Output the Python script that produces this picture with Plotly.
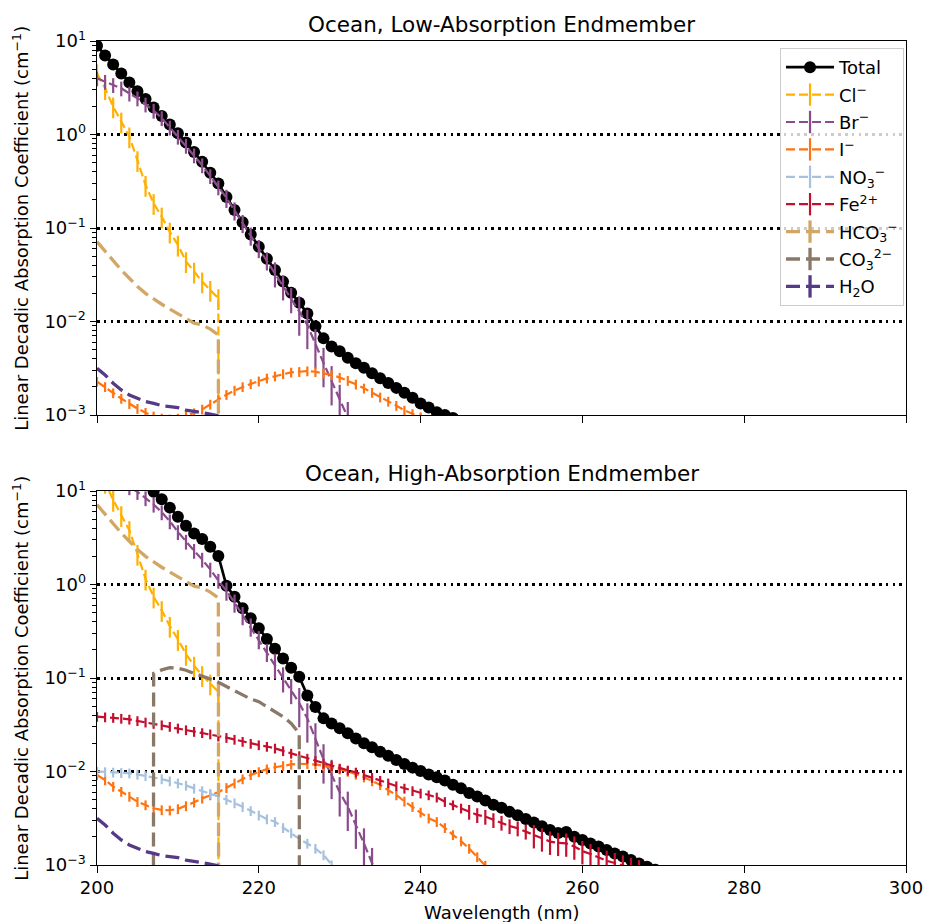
import plotly.graph_objects as go

# ---------------- data ----------------
top_total = [8.9, 7.0, 5.6, 4.5, 3.6, 2.9, 2.4, 1.94, 1.58, 1.28, 1.03, 0.82, 0.65, 0.51, 0.39,
             0.30, 0.214, 0.156, 0.115, 0.085, 0.063, 0.047, 0.0356, 0.0267, 0.0203, 0.0159,
             0.0122, 0.0089, 0.0066, 0.0054, 0.0048, 0.0041, 0.00357, 0.0032, 0.0028, 0.00247,
             0.0022, 0.00195, 0.00173, 0.00153, 0.00133, 0.0012, 0.00107, 0.001, 0.00093, 0.00086]
top_cl = [4.5, 3.12, 1.99, 1.37, 0.95, 0.53, 0.288, 0.184, 0.132, 0.091, 0.066, 0.044, 0.034,
          0.0267, 0.0217, 0.0177, 1e-100]
top_br = [4.0, 3.67, 3.39, 3.12, 2.75, 2.44, 2.1, 1.80, 1.50, 1.19, 0.95, 0.76, 0.60, 0.47, 0.36,
          0.273, 0.21, 0.154, 0.113, 0.083, 0.061, 0.045, 0.033, 0.024, 0.0175, 0.0128, 0.0092,
          0.0057, 0.0036, 0.0023, 0.00145, 0.00095, 0.0006, 0.0004]
top_i = [0.00228, 0.002, 0.00172, 0.0015, 0.00132, 0.00117, 0.00106, 0.00097, 0.00092, 0.0009,
         0.00092, 0.00098, 0.00105, 0.00115, 0.0013, 0.00145, 0.00165, 0.00183, 0.002, 0.00215,
         0.0023, 0.00247, 0.0026, 0.00275, 0.00286, 0.0029, 0.00295, 0.0029, 0.0028, 0.00268,
         0.00252, 0.00233, 0.00213, 0.00193, 0.00174, 0.00155, 0.0014, 0.00126, 0.00112,
         0.00103, 0.00095, 0.00088]
top_hco3 = [0.0714, 0.0568, 0.0444, 0.0355, 0.029, 0.0236, 0.02, 0.0173, 0.0153, 0.0136, 0.0122,
            0.0108, 0.0096, 0.0092, 0.0083, 0.0072, 1e-100]
h2o = [0.00316, 0.00268, 0.00219, 0.00185, 0.00164, 0.0015, 0.00139, 0.00133, 0.00126, 0.00123,
       0.0012, 0.00113, 0.0011, 0.00106, 0.00102, 0.00098, 0.00094, 0.0009, 0.00086]

bot_total = [41.2, 32.9, 26.1, 21.6, 17.7, 14.3, 11.6, 9.8, 8.15, 6.64, 5.3, 4.26, 3.52, 3.07,
             2.54, 2.02, 0.97, 0.74, 0.556, 0.435, 0.34, 0.262, 0.205, 0.162, 0.129, 0.103,
             0.065, 0.049, 0.037, 0.0327, 0.029, 0.0257, 0.0226, 0.02, 0.0182, 0.0163, 0.0147,
             0.0133, 0.012, 0.011, 0.0101, 0.0093, 0.0087, 0.008, 0.0072, 0.0066, 0.0059, 0.0054,
             0.0049, 0.0044, 0.0041, 0.0037, 0.0034, 0.0031, 0.00285, 0.0026, 0.00237, 0.0022,
             0.00226, 0.002, 0.00185, 0.0017, 0.00158, 0.00145, 0.00133, 0.00123, 0.00113,
             0.00104, 0.00096, 0.00089, 0.00082]
bot_cl = [18.0, 12.5, 8.0, 5.5, 3.8, 2.12, 1.15, 0.74, 0.53, 0.36, 0.26, 0.18, 0.135, 0.107,
          0.087, 0.071, 1e-100]
bot_br = [16.0, 14.7, 13.6, 12.5, 11.0, 9.8, 8.4, 7.17, 5.94, 4.75, 3.65, 2.88, 2.3, 1.85, 1.45,
          1.10, 0.86, 0.64, 0.47, 0.355, 0.26, 0.19, 0.14, 0.10, 0.075, 0.054, 0.037, 0.0226,
          0.0135, 0.0092, 0.006, 0.0042, 0.0027, 0.0017, 0.00105, 0.00065]
bot_i = [0.0092, 0.0081, 0.0069, 0.0061, 0.0054, 0.00475, 0.00438, 0.00404, 0.00388, 0.00385,
         0.00398, 0.00428, 0.00468, 0.00516, 0.0056, 0.006, 0.0067, 0.0075, 0.0083, 0.0092,
         0.0099, 0.0106, 0.0111, 0.0115, 0.0119, 0.0121, 0.0121, 0.0119, 0.0115, 0.0111, 0.0106,
         0.01, 0.0093, 0.0087, 0.0079, 0.0072, 0.0063, 0.0056, 0.0048, 0.0042, 0.00366, 0.00316,
         0.0029, 0.0025, 0.0021, 0.0018, 0.0015, 0.00122, 0.00099, 0.0008]
bot_no3 = [0.01, 0.0099, 0.0098, 0.0097, 0.0096, 0.0093, 0.009, 0.0087, 0.0083, 0.0079, 0.0075,
           0.0071, 0.0066, 0.0062, 0.0058, 0.0054, 0.005, 0.0046, 0.0042, 0.0038, 0.0034, 0.0031,
           0.0029, 0.0025, 0.0022, 0.0019, 0.0017, 0.0015, 0.00128, 0.001, 0.0008]
bot_fe = [0.0386, 0.0382, 0.0377, 0.0369, 0.0361, 0.0348, 0.0336, 0.0325, 0.0314, 0.0302, 0.029,
          0.0278, 0.0267, 0.0259, 0.0251, 0.024, 0.023, 0.022, 0.0209, 0.0199, 0.0192, 0.0185,
          0.0177, 0.0166, 0.0156, 0.0147, 0.0138, 0.013, 0.0122, 0.0115, 0.0108, 0.0103, 0.0098,
          0.0092, 0.0086, 0.008, 0.0075, 0.007, 0.0066, 0.0062, 0.00585, 0.0056, 0.0053, 0.00475,
          0.00438, 0.00404, 0.00372, 0.00343, 0.00329, 0.00303, 0.00284, 0.00261, 0.00247,
          0.00228, 0.00209, 0.00193, 0.00178, 0.00173, 0.0017, 0.00158, 0.00141, 0.00131,
          0.00121, 0.00111, 0.00105, 0.00099, 0.00093, 0.00088]
bot_hco3 = [7.14, 5.68, 4.44, 3.55, 2.9, 2.36, 2.0, 1.73, 1.53, 1.36, 1.22, 1.08, 0.96, 0.92,
            0.83, 0.72, 1e-100]
BOT_CO3_START = 206
bot_co3 = [1e-100, 0.112, 0.122, 0.129, 0.127, 0.121, 0.112, 0.105, 0.0977, 0.09, 0.0807,
           0.0732, 0.066, 0.0596, 0.0558, 0.0493, 0.0436, 0.0386, 0.0327, 0.0256, 1e-100]

# relative 1-sigma uncertainties (error bars)
CL_REL_ERR = 0.25
I_REL_ERR = 0.12
NO3_REL_ERR = 0.12
br_rel_err = [0.18] * 16 + [0.22] * 6 + [0.30] * 3 + [0.45] * 11
fe_rel_err = [0.12] * 46 + [0.18] * 8 + [0.28] * 14

names = ["Total", "Cl<sup>−</sup>", "Br<sup>−</sup>", "I<sup>−</sup>", "NO<sub>3</sub><sup>−</sup>",
         "Fe<sup>2+</sup>", "HCO<sub>3</sub><sup>−</sup>", "CO<sub>3</sub><sup>2−</sup>", "H<sub>2</sub>O"]
colors = ["#000000", "#ffb000", "#8b4c8c", "#ff7311", "#a6c1dd", "#c4102f", "#d2a766",
          "#8a7968", "#563a85"]
titles = ["Ocean, Low-Absorption Endmember", "Ocean, High-Absorption Endmember"]
ylabel = "Linear Decadic Absorption Coefficient (cm<sup>−1</sup>)"
xlabel = "Wavelength (nm)"
ytick_vals = [1e-3, 1e-2, 1e-1, 1, 10]
ytick_text = ["10<sup>−3</sup>", "10<sup>−2</sup>", "10<sup>−1</sup>", "10<sup>0</sup>", "10<sup>1</sup>"]

# ---------------- styling ----------------
FONT = "DejaVu Sans"
THIN, THICK = 2.2, 3.3
DASH_THIN, DASH_THICK = "9px,4px", "14px,6px"
thin_set = {1, 2, 3, 4, 5}
MSIZE = 12

fig = go.Figure()

# legend-only entries (mimic matplotlib errorbar handles)
for k, (nm, c) in enumerate(zip(names, colors)):
    if k == 0:
        fig.add_trace(go.Scatter(x=[None], y=[None], name=nm, mode="lines+markers",
                                 line=dict(color=c, width=2.7),
                                 marker=dict(symbol="circle", size=MSIZE, color=c),
                                 legendgroup=str(k), xaxis="x", yaxis="y"))
    else:
        w = THIN if k in thin_set else THICK
        d = DASH_THIN if k in thin_set else DASH_THICK
        fig.add_trace(go.Scatter(x=[None], y=[None], name=nm, mode="lines+markers",
                                 line=dict(color=c, width=w, dash=d),
                                 marker=dict(symbol="line-ns", size=18, color=c,
                                             line=dict(color=c, width=w)),
                                 legendgroup=str(k), xaxis="x", yaxis="y"))


def add_series(vals, start, k, xa, ya, rel=None):
    x = list(range(start, start + len(vals)))
    c = colors[k]
    if k == 0:
        fig.add_trace(go.Scatter(x=x, y=vals, mode="lines+markers",
                                 line=dict(color=c, width=2.7),
                                 marker=dict(symbol="circle", size=MSIZE, color=c),
                                 showlegend=False, hoverinfo="skip", xaxis=xa, yaxis=ya))
        return
    w = THIN if k in thin_set else THICK
    d = DASH_THIN if k in thin_set else DASH_THICK
    err = None
    if rel is not None:
        if isinstance(rel, list):
            e = [v * r for v, r in zip(vals, rel)]
        else:
            e = [v * rel for v in vals]
        err = dict(type="data", array=e, color=c, thickness=w, width=0, visible=True)
    fig.add_trace(go.Scatter(x=x, y=vals, mode="lines", line=dict(color=c, width=w, dash=d),
                             error_y=err, showlegend=False, hoverinfo="skip",
                             xaxis=xa, yaxis=ya))


# top panel
add_series(top_total, 200, 0, "x", "y")
add_series(top_cl, 200, 1, "x", "y", CL_REL_ERR)
add_series(top_br, 200, 2, "x", "y", br_rel_err[:len(top_br)])
add_series(top_i, 200, 3, "x", "y", I_REL_ERR)
add_series(top_hco3, 200, 6, "x", "y")
add_series(h2o, 200, 8, "x", "y")

# bottom panel
add_series(bot_total, 200, 0, "x2", "y2")
add_series(bot_cl, 200, 1, "x2", "y2", CL_REL_ERR)
add_series(bot_br, 200, 2, "x2", "y2", br_rel_err[:len(bot_br)])
add_series(bot_i, 200, 3, "x2", "y2", I_REL_ERR)
add_series(bot_no3, 200, 4, "x2", "y2", NO3_REL_ERR)
add_series(bot_fe, 200, 5, "x2", "y2", fe_rel_err[:len(bot_fe)])
add_series(bot_hco3, 200, 6, "x2", "y2")
add_series(bot_co3, BOT_CO3_START, 7, "x2", "y2")
add_series(h2o, 200, 8, "x2", "y2")

W, H = 935, 922
ML, MR, MT, MB = 97, 20, 41, 57
PH = H - MT - MB
PW = W - ML - MR
panel_h = 374
top_dom = [1 - panel_h / PH, 1]
bot_dom = [0, panel_h / PH]

xcommon = dict(range=[200, 300], tick0=200, dtick=20, ticks="outside", ticklen=6.3,
               tickwidth=1.4, tickcolor="black", showline=True, linecolor="black",
               linewidth=1.4, mirror=True, showgrid=False, zeroline=False,
               tickfont=dict(family=FONT, size=18, color="black"))
ycommon = dict(type="log", range=[-3, 1], tickmode="array", tickvals=ytick_vals,
               ticktext=ytick_text, ticks="outside", ticklen=6.3, tickwidth=1.4,
               tickcolor="black", showline=True, linecolor="black", linewidth=1.4,
               mirror=True, showgrid=True, gridcolor="black", gridwidth=2.6,
               griddash="2.6px,4.2px", zeroline=False,
               tickfont=dict(family=FONT, size=18, color="black"),
               minor=dict(ticks="outside", ticklen=3.6, tickwidth=1.1, tickcolor="black",
                          dtick="D1", showgrid=False))

fig.update_layout(
    width=W, height=H, margin=dict(l=ML, r=MR, t=MT, b=MB),
    paper_bgcolor="white", plot_bgcolor="white",
    font=dict(family=FONT, size=18, color="black"),
    xaxis=dict(domain=[0, 1], anchor="y", showticklabels=False, **xcommon),
    yaxis=dict(domain=top_dom, anchor="x", **ycommon),
    xaxis2=dict(domain=[0, 1], anchor="y2", **xcommon),
    yaxis2=dict(domain=bot_dom, anchor="x2", **ycommon),
    legend=dict(x=(913 - ML) / PW, y=1 - 7 / PH, xanchor="right", yanchor="top",
                bgcolor="rgba(255,255,255,0.8)", bordercolor="#cccccc", borderwidth=1,
                font=dict(family=FONT, size=18, color="black"), traceorder="grouped",
                tracegroupgap=1, itemwidth=48),
    showlegend=True,
)

ann = []
for t, yd in zip(titles, [top_dom, bot_dom]):
    ann.append(dict(text=t, xref="paper", yref="paper", x=0.5, y=yd[1] + 17 / PH,
                    xanchor="center", yanchor="middle", showarrow=False,
                    font=dict(family=FONT, size=21.5, color="black")))
    ann.append(dict(text=ylabel, xref="paper", yref="paper", x=(20 - ML) / PW,
                    y=(yd[0] + yd[1]) / 2, xanchor="center", yanchor="middle", textangle=-90,
                    showarrow=False, font=dict(family=FONT, size=18, color="black")))
ann.append(dict(text=xlabel, xref="paper", yref="paper", x=0.5, y=-47 / PH, xanchor="center",
                yanchor="middle", showarrow=False, font=dict(family=FONT, size=18, color="black")))
fig.update_layout(annotations=ann)

fig.write_html("out.html")
